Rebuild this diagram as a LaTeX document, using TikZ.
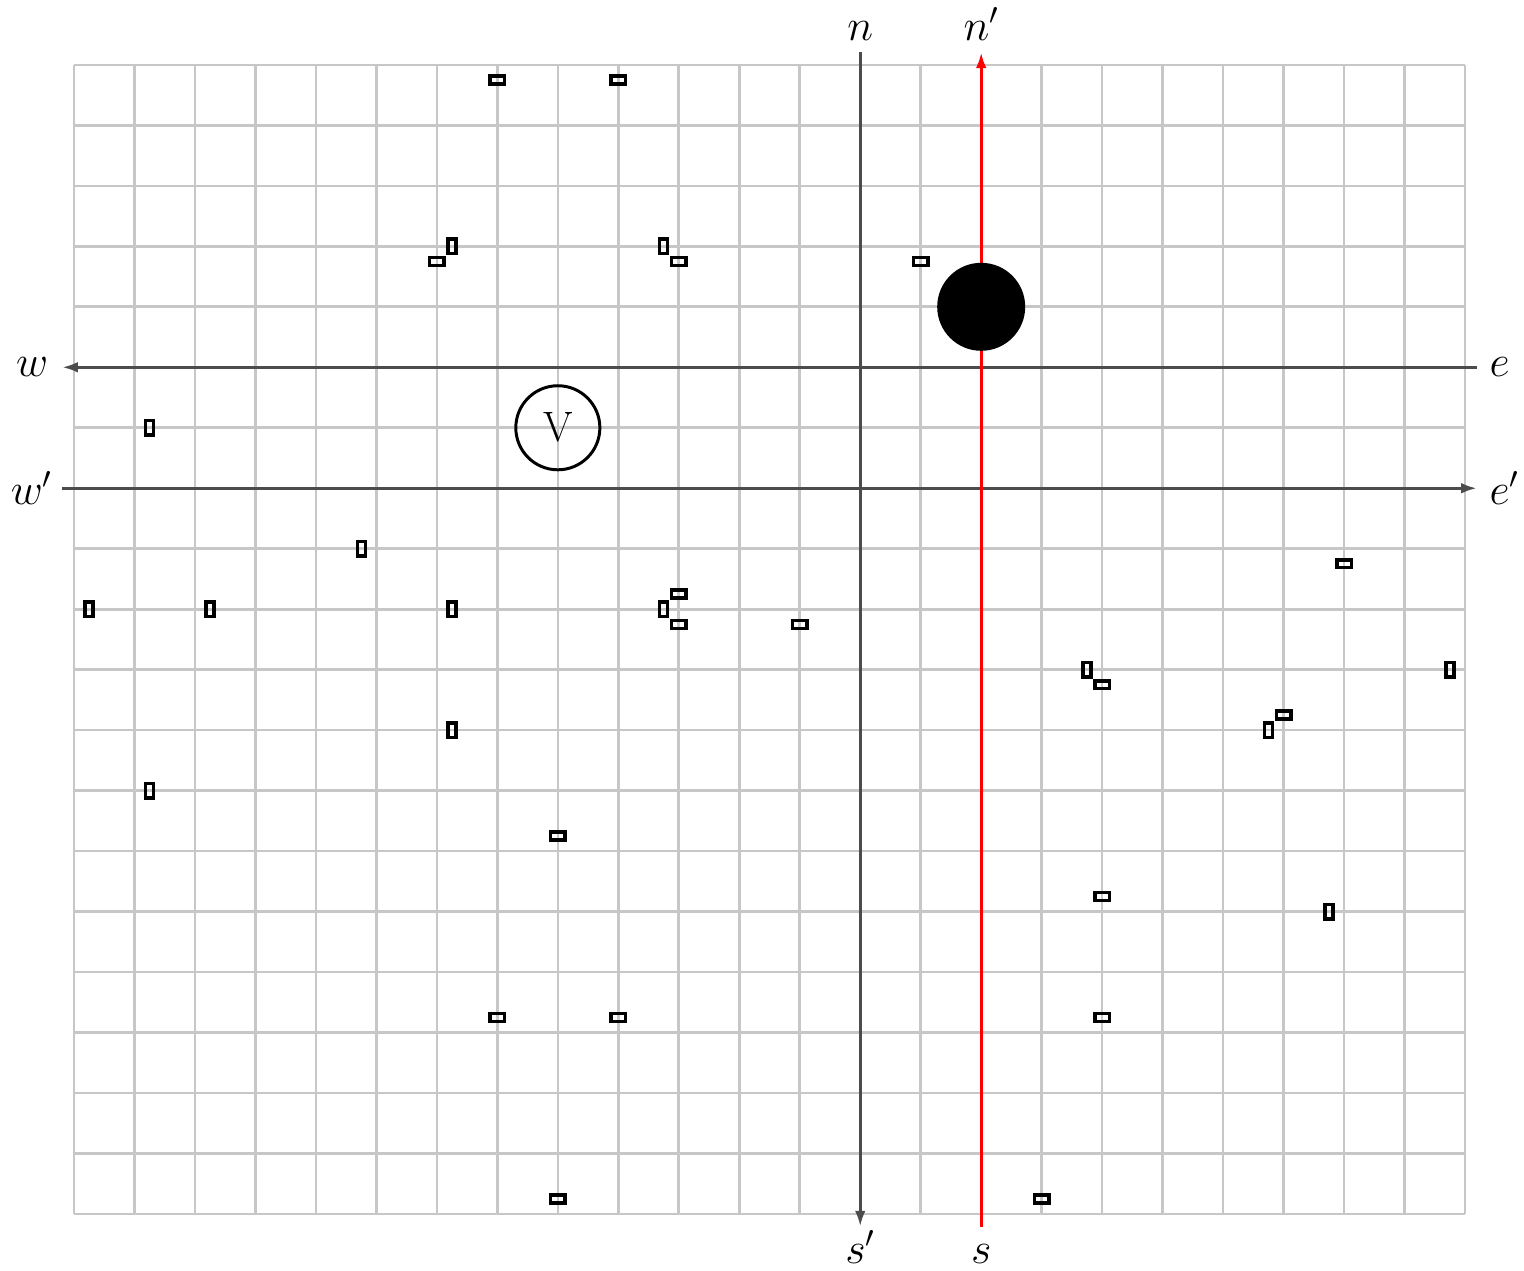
\documentclass[tikz,border=0pt]{standalone}
\usetikzlibrary{arrows.meta}
\begin{document}
\begin{tikzpicture}[x=1cm,y=1cm,
  gridline/.style={draw=black!22, line width=1.25pt},
  axisline/.style={draw=black!70, line width=1.5pt, -{Latex[length=7.5pt,width=5pt]}},
  redline/.style={draw=red, line width=1.5pt, -{Latex[length=7.5pt,width=5pt]}},
  lbl/.style={font=\fontsize{21}{25}\selectfont, inner sep=0pt},
  hbox/.style={draw, line width=1.6pt, minimum width=0.24cm, minimum height=0.13cm, inner sep=0pt},
  vbox/.style={draw, line width=1.6pt, minimum width=0.13cm, minimum height=0.24cm, inner sep=0pt}
]
\useasboundingbox (-1.2235,-0.926) rectangle (23.975,20.073);
\draw[gridline] (0,0) grid (23,19);

% axis end points
\coordinate (wEnd) at (-0.2,14);
\coordinate (eEnd) at (23.2,14);
\coordinate (wpEnd) at (-0.2,12);
\coordinate (epEnd) at (23.2,12);
\coordinate (nTop) at (13,19.21);
\coordinate (spBot) at (13,-0.21);
\coordinate (npTop) at (15,19.21);
\coordinate (sBot) at (15,-0.21);

\draw[axisline] (eEnd) -- (wEnd);
\draw[axisline] (wpEnd) -- (epEnd);
\draw[axisline] (nTop) -- (spBot);
\draw[redline] (sBot) -- (npTop);

% labels
\node[lbl, anchor=east] (w) at ([xshift=-0.22cm]wEnd) {$w$};
\node[lbl, anchor=west] (e) at ([xshift=0.2cm]eEnd) {$e$};
\node[lbl, anchor=east] (wp) at ([xshift=-0.15cm]wpEnd) {$w'$};
\node[lbl, anchor=west] (ep) at ([xshift=0.2cm]epEnd) {$e'$};
\node[lbl, anchor=base] (n) at ([yshift=0.19cm]nTop) {$n$};
\node[lbl, anchor=base] (np) at ([yshift=0.19cm]npTop) {$n'$};
\node[lbl, anchor=base] (sp) at ([yshift=-0.6cm]spBot) {$s'$};
\node[lbl, anchor=base] (s) at ([yshift=-0.6cm]sBot) {$s$};

% circles
\node[circle, fill=black, minimum size=1.455cm, inner sep=0pt] (dot) at (15,15) {};
\node[circle, draw, line width=1.4pt, minimum size=1.39cm, inner sep=0pt,
      font=\fontsize{20}{24}\selectfont] (V) at (8,13) {V};

% small boxes
\foreach \p [count=\i] in {(7,18.75),(9,18.75),(6,15.75),(10,15.75),(14,15.75),
  (10,10.25),(10,9.75),(12,9.75),(21,10.75),(17,8.75),(20,8.25),(8,6.25),
  (17,5.25),(7,3.25),(9,3.25),(17,3.25),(8,0.25),(16,0.25)}
  \node[hbox] (h\i) at \p {};
\foreach \p [count=\i] in {(6.25,16),(9.75,16),(1.25,13),(4.75,11),(0.25,10),
  (2.25,10),(6.25,10),(9.75,10),(16.75,9),(22.75,9),(19.75,8),(6.25,8),
  (1.25,7),(20.75,5)}
  \node[vbox] (v\i) at \p {};
\end{tikzpicture}
\end{document}
